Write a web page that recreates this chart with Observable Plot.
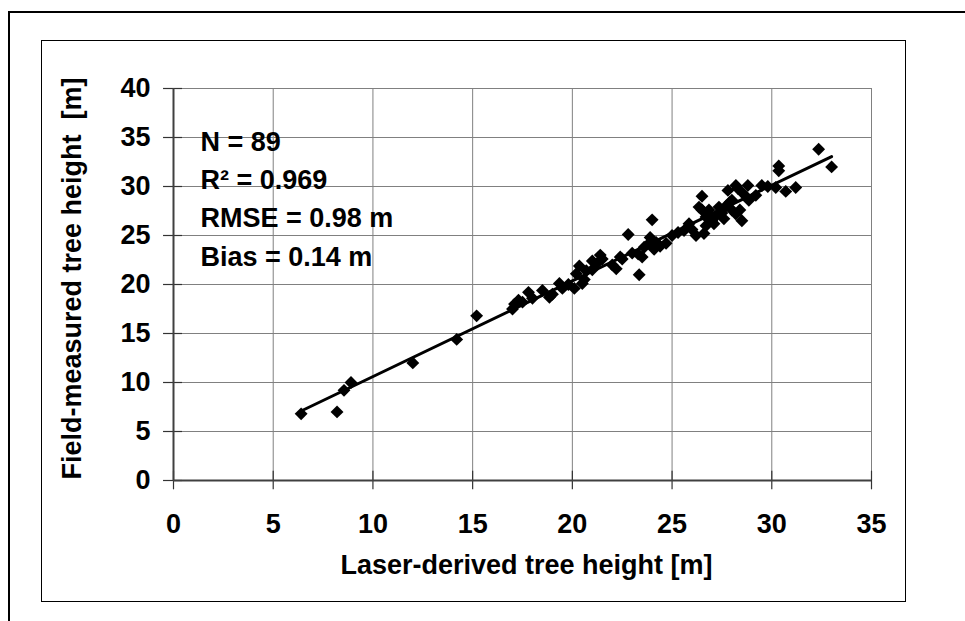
<!DOCTYPE html>
<html>
<head>
<meta charset="utf-8">
<script src="https://cdn.jsdelivr.net/npm/d3@7"></script>
<script src="https://cdn.jsdelivr.net/npm/@observablehq/plot@0.6"></script>
<style>
  html, body { margin: 0; padding: 0; background: #fff; }
  #wrap { position: relative; width: 965px; height: 621px; overflow: hidden; }
  #outer { position: absolute; left: 8px; top: 11px; width: 1100px; height: 800px;
           border-left: 2px solid #000; border-top: 2px solid #000; }
  #inner { position: absolute; left: 41px; top: 40px; width: 863px; height: 560px;
           border: 1px solid #000; }
  #chart { position: absolute; left: 0; top: 0; }
</style>
</head>
<body>
<div id="wrap">
  <div id="outer"></div>
  <div id="inner"></div>
  <div id="chart"></div>
</div>
<script>
// Laser-derived tree height [m]
const laserHeight = [
  6.4, 8.2, 8.55, 8.9, 12.0, 14.2, 15.2, 17.0, 17.1, 17.3,
  17.5, 17.8, 18.0, 18.5, 18.85, 19.0, 19.35, 19.5, 20.1, 20.2,
  20.35, 20.5, 20.6, 20.7, 21.0, 21.2, 21.0, 21.4, 21.5, 22.2,
  22.4, 22.5, 22.8, 23.0, 23.3, 23.35, 23.5, 23.6, 23.85, 23.9,
  24.0, 24.1, 24.2, 24.4, 24.7, 25.0, 25.3, 25.6, 25.85, 26.0,
  26.2, 26.35, 26.5, 26.5, 26.6, 26.7, 26.7, 26.85, 27.0, 27.1,
  27.2, 27.35, 27.5, 27.7, 27.8, 27.9, 28.0, 28.0, 28.2, 28.2,
  28.4, 28.5, 28.6, 28.8, 28.85, 29.2, 29.5, 29.8, 30.2, 30.35,
  30.35, 30.7, 31.2, 32.35, 33.0, 28.3, 27.6, 22.0, 19.8
];
// Field-measured tree height [m]
const fieldHeight = [
  6.8, 7.0, 9.2, 10.0, 12.0, 14.4, 16.8, 17.5, 18.0, 18.4,
  18.2, 19.2, 18.6, 19.4, 18.7, 19.0, 20.1, 19.6, 19.6, 21.1,
  21.9, 20.1, 20.5, 21.4, 22.4, 22.1, 21.5, 23.0, 22.6, 21.6,
  22.8, 22.6, 25.1, 23.2, 23.1, 21.0, 22.8, 23.8, 24.2, 24.8,
  26.6, 23.6, 24.3, 23.9, 24.2, 25.0, 25.3, 25.5, 26.2, 25.6,
  25.0, 27.9, 29.0, 27.6, 25.2, 26.9, 26.0, 27.6, 26.5, 26.2,
  27.0, 27.9, 27.3, 28.0, 29.6, 28.4, 28.6, 27.6, 30.1, 27.2,
  27.6, 26.5, 29.2, 30.1, 28.6, 29.1, 30.1, 30.0, 29.9, 32.1,
  31.6, 29.5, 29.9, 33.8, 32.0, 29.8, 26.7, 22.0, 20.0
];
const xTicks = [0, 5, 10, 15, 20, 25, 30, 35];
const yTicks = [0, 5, 10, 15, 20, 25, 30, 35, 40];
const statLines = ["N = 89", "R\u00b2 = 0.969", "RMSE = 0.98 m", "Bias = 0.14 m"];
const xTitle = "Laser-derived tree height [m]";
const yTitle = "Field-measured tree height \u00a0[m]";

const data = laserHeight.map((x, i) => ({x, y: fieldHeight[i]}));

const plot = Plot.plot({
  width: 965,
  height: 621,
  marginLeft: 173,
  marginRight: 94,
  marginTop: 88,
  marginBottom: 141,
  style: {
    background: "transparent",
    fontFamily: "'Liberation Sans', Arial, sans-serif",
    fontSize: "27px",
    fontWeight: "bold",
    color: "#000"
  },
  x: {domain: [0, 35]},
  y: {domain: [0, 40]},
  marks: [
    Plot.gridX(xTicks.slice(1), {stroke: "#808080", strokeOpacity: 1, strokeWidth: 1}),
    Plot.gridY(yTicks.slice(1), {stroke: "#808080", strokeOpacity: 1, strokeWidth: 1}),
    Plot.ruleX(xTicks, {y1: -0.95, y2: 0.95, stroke: "#333", strokeWidth: 1.2}),
    Plot.ruleY(yTicks, {x1: -0.5, x2: 0.45, stroke: "#333", strokeWidth: 1.2}),
    Plot.ruleX([0], {stroke: "#404040", strokeWidth: 2}),
    Plot.ruleY([0], {stroke: "#404040", strokeWidth: 2}),
    Plot.axisX(xTicks, {tickSize: 0, tickPadding: 33, fontSize: 27, fontWeight: "bold", fill: "#000", label: null}),
    Plot.axisY(yTicks, {tickSize: 0, tickPadding: 23, fontSize: 27, fontWeight: "bold", fill: "#000", label: null}),
    Plot.dot(data, {x: "x", y: "y", symbol: "diamond2", r: 5.8, fill: "#000", stroke: "none"}),
    Plot.linearRegressionY(data, {x: "x", y: "y", ci: 0, stroke: "#000", strokeWidth: 3}),
    Plot.text([statLines.join("\n")], {frameAnchor: "top-left", dx: 27, dy: 35, lineAnchor: "top",
      textAnchor: "start", lineHeight: 1.42, fontSize: 27, fontWeight: "bold", fill: "#000"}),
    Plot.text([xTitle], {frameAnchor: "bottom", dx: 4, dy: 93, fontSize: 27, fontWeight: "bold", fill: "#000"}),
    Plot.text([yTitle], {frameAnchor: "left", textAnchor: "middle", dx: -101, dy: -6, rotate: -90,
      fontSize: 27, fontWeight: "bold", fill: "#000"})
  ]
});
document.getElementById("chart").appendChild(plot);
</script>
</body>
</html>
